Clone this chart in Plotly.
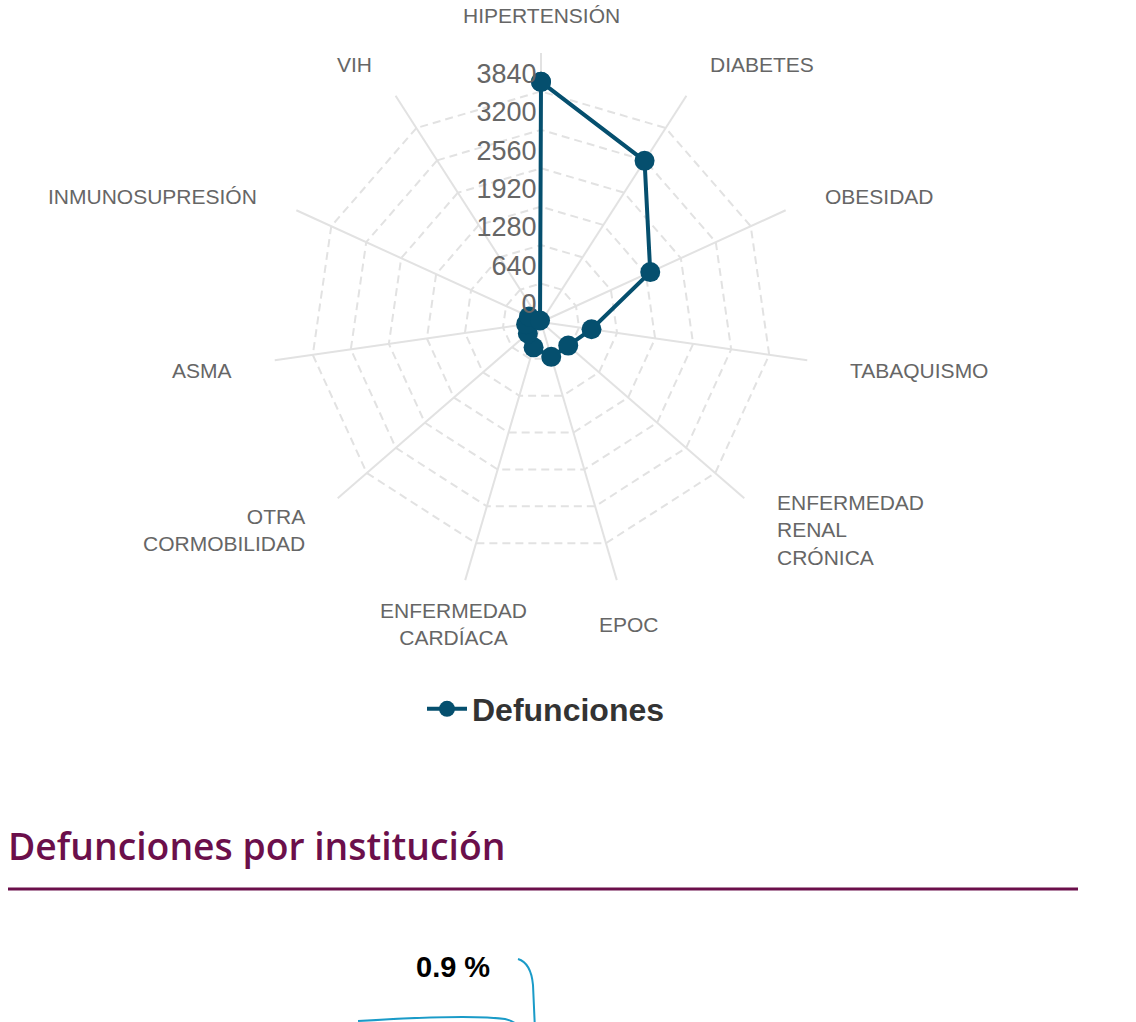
import math
import plotly.graph_objects as go

W, H = 1136, 1022

categories = [
    "HIPERTENSIÓN", "DIABETES", "OBESIDAD", "TABAQUISMO",
    "ENFERMEDAD<br>RENAL<br>CRÓNICA", "EPOC", "ENFERMEDAD<br>CARDÍACA",
    "OTRA<br>CORMOBILIDAD", "ASMA", "INMUNOSUPRESIÓN", "VIH",
]
defunciones = [4000, 3190, 2000, 850, 600, 605, 440, 290, 250, 220, 30]
radial_ticks = [0, 640, 1280, 1920, 2560, 3200, 3840, 4480]
radial_ticktext = ["0", "640", "1280", "1920", "2560", "3200", "3840", ""]
series_name = "Defunciones"
heading = "Defunciones por institución"
pie_labels = ["0.9 %", "1.7 %"]

LINE_COLOR = "#054F6E"
GRID = "#e2e2e2"
PURPLE = "#6b0f4b"
LEADER = "#1a9bc8"
LABEL = "#666666"
FONT = "Liberation Sans, Arial, sans-serif"


def px(x, y):
    return x / W, 1 - y / H


# polar area (pixels)
PX0, PY0, PSIZE = 272, 53, 538
CX, CY, R = PX0 + PSIZE / 2, PY0 + PSIZE / 2, PSIZE / 2

fig = go.Figure()
fig.add_trace(go.Scatterpolar(
    r=defunciones + defunciones[:1],
    theta=categories + categories[:1],
    mode="lines+markers",
    name=series_name,
    line=dict(color=LINE_COLOR, width=4),
    marker=dict(color=LINE_COLOR, size=20),
    showlegend=True,
))

x0, y0 = px(PX0, PY0)
x1, y1 = px(PX0 + PSIZE, PY0 + PSIZE)
fig.update_layout(
    width=W, height=H,
    margin=dict(l=0, r=0, t=0, b=0),
    paper_bgcolor="white",
    font=dict(family=FONT, color=LABEL),
    polar=dict(
        domain=dict(x=[x0, x1], y=[y1, y0]),
        bgcolor="white",
        gridshape="linear",
        radialaxis=dict(
            range=[0, radial_ticks[-1]],
            tickvals=radial_ticks,
            ticktext=[t + "<br> " if t else t for t in radial_ticktext],
            angle=90,
            tickangle=90,
            side="counterclockwise",
            showline=False,
            gridcolor=GRID,
            gridwidth=2,
            griddash="8px,5px",
            ticks="",
            tickfont=dict(size=27, color=LABEL),
        ),
        angularaxis=dict(
            direction="clockwise",
            rotation=90,
            showline=False,
            gridcolor=GRID,
            gridwidth=2,
            showticklabels=False,
            ticks="",
        ),
    ),
    legend=dict(
        orientation="h",
        x=px(546, 0)[0], xanchor="center",
        y=px(0, 709)[1], yanchor="middle",
        itemwidth=40,
        font=dict(size=32, color="#333333", family=FONT, weight="bold"),
        bgcolor="rgba(0,0,0,0)",
    ),
)

# category labels around the radar, placed at each category's angle
N = len(categories)
LABEL_DIST = R + 42
for i, cat in enumerate(categories):
    ang = 360.0 * i / N
    a = math.radians(ang)
    lxp = CX + LABEL_DIST * math.sin(a)
    lyp = CY - LABEL_DIST * math.cos(a)
    if 20 < ang < 160:
        anchor = "left"
    elif 200 < ang < 340:
        anchor = "right"
    else:
        anchor = "center"
    qx, qy = px(lxp, lyp)
    fig.add_annotation(
        x=qx, y=qy, xref="paper", yref="paper", xanchor=anchor, yanchor="middle",
        yshift=-4, align=anchor, text=cat, showarrow=False, borderpad=0,
        font=dict(family=FONT, size=21, color=LABEL),
    )

hx, hy = px(7, 845)
fig.add_annotation(
    x=hx, y=hy, xref="paper", yref="paper", xanchor="left", yanchor="middle",
    text=heading, showarrow=False, borderpad=0,
    font=dict(family="Open Sans", size=37.3, color=PURPLE, weight=600),
)
lx0, ly = px(8, 889)
lx1, _ = px(1078, 889)
fig.add_shape(type="line", xref="paper", yref="paper", x0=lx0, x1=lx1, y0=ly, y1=ly,
              line=dict(color=PURPLE, width=3))

label_pos = [(453, 967), (293, 1034)]
for lab, (ax, ay) in zip(pie_labels, label_pos):
    qx, qy = px(ax, ay)
    fig.add_annotation(
        x=qx, y=qy, xref="paper", yref="paper", xanchor="center", yanchor="middle",
        text=f"<b>{lab}</b>", showarrow=False,
        font=dict(family=FONT, size=29, color="#000000"),
    )


def path(points):
    s = ""
    for cmd, pts in points:
        s += cmd + " " + " ".join(f"{px(x, y)[0]:.5f},{px(x, y)[1]:.5f}" for x, y in pts) + " "
    return s.strip()


leader1 = path([("M", [(518, 959)]), ("Q", [(531, 963), (533, 985)]), ("L", [(535, 1030)])])
leader2 = path([("M", [(358, 1021)]), ("Q", [(470, 1014), (505, 1019)]), ("Q", [(518, 1022), (522, 1032)])])
for p in (leader1, leader2):
    fig.add_shape(type="path", xref="paper", yref="paper", path=p,
                  line=dict(color=LEADER, width=2))

fig.write_html(
    "out.html",
    config={"displayModeBar": False},
    post_script="document.body.style.margin='0';document.body.style.overflow='hidden';",
)
